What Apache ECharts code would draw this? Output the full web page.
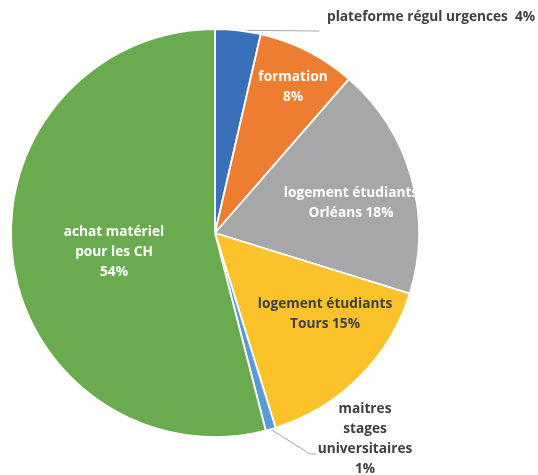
<!DOCTYPE html>
<html>
<head>
<meta charset="utf-8">
<script src="https://cdn.jsdelivr.net/npm/echarts@6/dist/echarts.min.js"></script>
<style>
html,body{margin:0;padding:0;background:#fff;}
#chart{width:538px;height:475px;}
</style>
</head>
<body>
<div id="chart"></div>
<script>
// Data
const categories = [
  'plateforme régul urgences',
  'formation',
  'logement étudiants\nOrléans',
  'logement étudiants\nTours',
  'maitres\nstages\nuniversitaires',
  'achat matériel\npour les CH'
];
const values = [3.6, 7.8, 18.4, 15.4, 0.8, 54.0];
const labelFormats = ['{b}  {d}%', '{b}\n{d}%', '{b} {d}%', '{b} {d}%', '{b}\n{d}%', '{b}\n{d}%'];

// Styles
const colors = ['#3A70B9', '#ED7D31', '#A5A7A8', '#FBC22B', '#5B9BD5', '#6AAB4F'];
const labelColors = ['#404040', '#ffffff', '#ffffff', '#404040', '#404040', '#ffffff'];
const outsideLabel = [true, false, false, false, true, false];
// label anchor placements (x, y, align)
const labelPlace = [
  {x: 327, y: 17, align: 'left'},
  {x: 293, y: 87, align: 'center'},
  {x: 351, y: 203, align: 'center'},
  {x: 325, y: 314, align: 'center'},
  {x: 365, y: 439, align: 'center'},
  {x: 114, y: 252, align: 'center'}
];
const lineEnds = {
  0: [[319, 31]],
  4: [[310, 454], [316, 454]]
};

const chart = echarts.init(document.getElementById('chart'), null, {renderer: 'canvas'});
const data = categories.map((name, i) => ({
  name: name,
  value: values[i],
  itemStyle: {color: colors[i]},
  label: {
    position: outsideLabel[i] ? 'outside' : 'inside',
    formatter: labelFormats[i],
    color: labelColors[i]
  },
  labelLine: {show: outsideLabel[i], length: 5, length2: 10}
}));

chart.setOption({
  animation: false,
  series: [{
    type: 'pie',
    center: [215, 233],
    radius: [0, 204],
    startAngle: 90,
    clockwise: true,
    avoidLabelOverlap: false,
    percentPrecision: 0,
    itemStyle: {borderColor: '#ffffff', borderWidth: 1.8},
    label: {
      fontFamily: '"Open Sans", "DejaVu Sans", sans-serif',
      fontWeight: 'bold',
      fontSize: 13.7,
      lineHeight: 20,
      align: 'center'
    },
    labelLine: {lineStyle: {color: '#A6A6A6', width: 1}},
    labelLayout: function (params) {
      const p = labelPlace[params.dataIndex];
      const res = {x: p.x, y: p.y, align: p.align, verticalAlign: 'middle'};
      const ends = lineEnds[params.dataIndex];
      if (ends && params.labelLinePoints) {
        const start = params.labelLinePoints[0];
        res.labelLinePoints = [start].concat(ends);
      }
      return res;
    },
    data: data
  }]
});
</script>
</body>
</html>
